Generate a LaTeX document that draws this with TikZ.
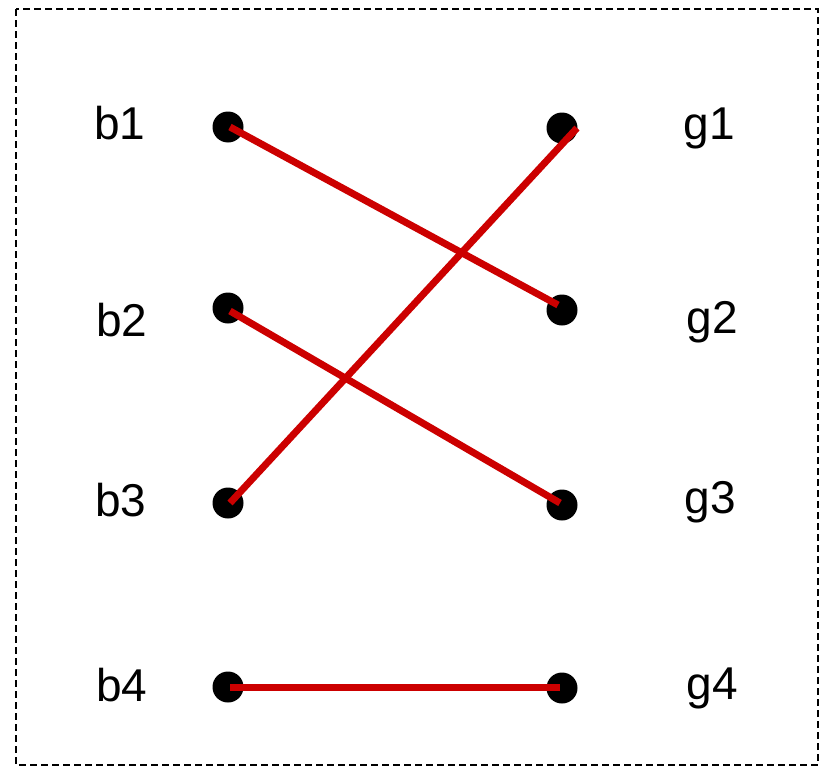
\documentclass[tikz,border=0pt]{standalone}
\usepackage{fontspec}
\setmainfont{Liberation Sans}
\begin{document}
\begin{tikzpicture}[x=1pt,y=-1pt,
  dot/.style={circle,fill=black,inner sep=0pt,minimum size=31pt},
  lbl/.style={font=\fontsize{46}{50}\selectfont,inner sep=0pt,anchor=center},
  edge/.style={draw={rgb,255:red,204;green,0;blue,0},line width=7pt}]
\useasboundingbox (0,0) rectangle (821,771);
\draw[dash pattern=on 7pt off 4pt,line width=1.5pt] (16,9) rectangle (818,765);
\node[dot] (b1) at (228,127) {};
\node[dot] (b2) at (228,308) {};
\node[dot] (b3) at (228,503) {};
\node[dot] (b4) at (228,687) {};
\node[dot] (g1) at (562,128) {};
\node[dot] (g2) at (562,310) {};
\node[dot] (g3) at (562,505) {};
\node[dot] (g4) at (562,688) {};
\node[lbl] (lb1) at (120,123) {b1};
\node[lbl] (lb2) at (122,320) {b2};
\node[lbl] (lb3) at (121,500) {b3};
\node[lbl] (lb4) at (122,685) {b4};
\node[lbl] (lg1) at (709,128) {g1};
\node[lbl] (lg2) at (712,322) {g2};
\node[lbl] (lg3) at (710,502) {g3};
\node[lbl] (lg4) at (712,688) {g4};
\draw[edge] ([shift={(2,0)}]b1.center) -- ([shift={(-4,-5)}]g2.center);
\draw[edge] ([shift={(15,0)}]g1.center) -- ([shift={(2,0)}]b3.center);
\draw[edge] ([shift={(2,3)}]b2.center) -- ([shift={(-2,-2)}]g3.center);
\draw[edge] ([shift={(2,0)}]b4.center) -- ([shift={(-2,-1)}]g4.center);
\end{tikzpicture}
\end{document}
